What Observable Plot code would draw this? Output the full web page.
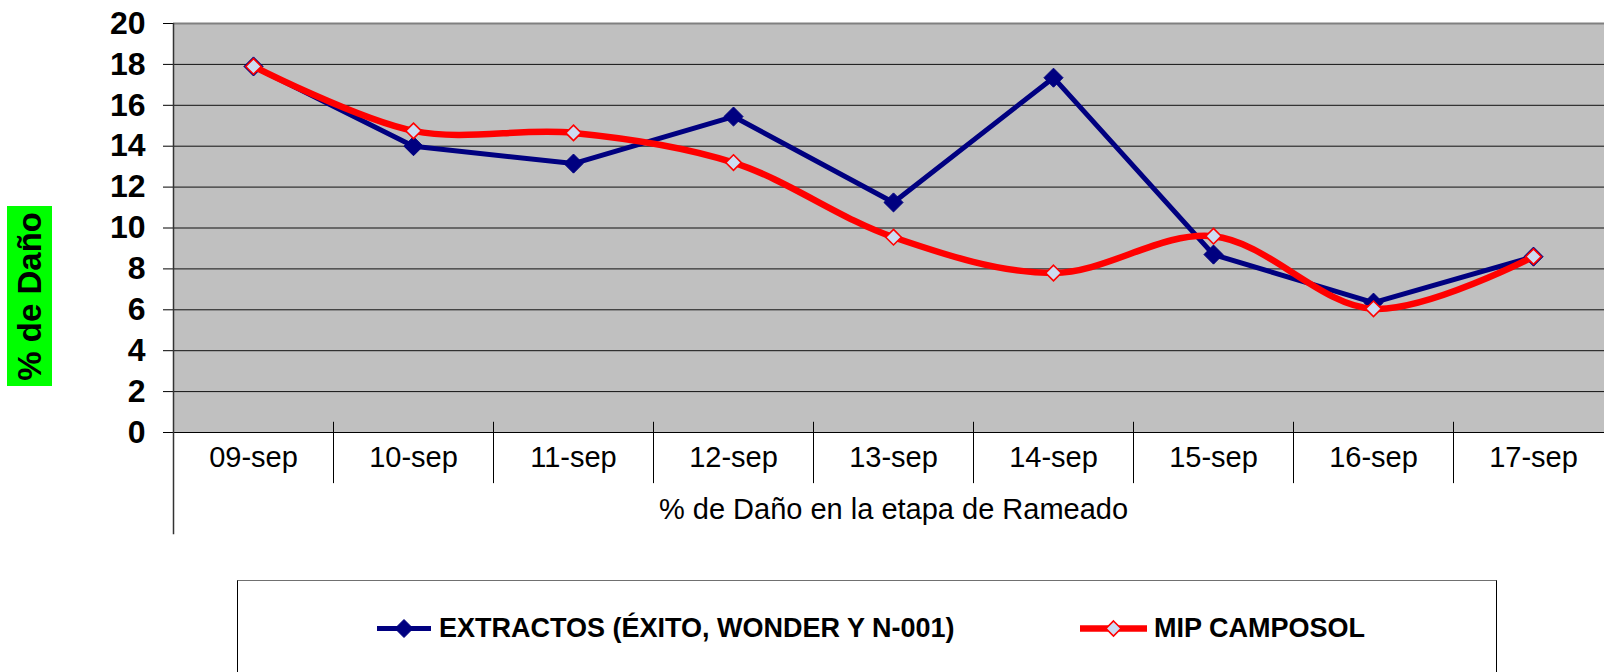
<!DOCTYPE html>
<html><head><meta charset="utf-8">
<script src="https://cdn.jsdelivr.net/npm/d3@7"></script>
<script src="https://cdn.jsdelivr.net/npm/@observablehq/plot@0.6"></script>
<style>
html,body{margin:0;padding:0;background:#fff;overflow:hidden;width:1604px;height:672px;}
#wrap{position:relative;width:1604px;height:672px;overflow:hidden;font-family:"Liberation Sans",Arial,sans-serif;color:#000;}
#chart{position:absolute;left:0;top:0;}
#ytitle{position:absolute;left:7px;top:206px;width:45px;height:180px;background:#00ff00;display:flex;align-items:center;justify-content:center;}
#ytitle span{writing-mode:vertical-rl;transform:rotate(180deg);font-weight:bold;font-size:33px;white-space:nowrap;line-height:1;}
#legend{position:absolute;left:237px;top:580px;width:1258px;height:120px;border:1px solid #000;border-top-color:#707070;background:#fff;}
.item{position:absolute;top:47px;transform:translateY(-50%);display:flex;align-items:center;font-weight:bold;font-size:27px;white-space:nowrap;}
.item svg{display:block;}
</style>
</head><body>
<div id="wrap">
  <div id="chart"></div>
  <div id="ytitle"><span></span></div>
  <div id="legend"></div>
</div>
<script>
const categories = ["09-sep","10-sep","11-sep","12-sep","13-sep","14-sep","15-sep","16-sep","17-sep"];
const extractos = [17.9, 14.0, 13.15, 15.45, 11.25, 17.35, 8.7, 6.35, 8.6];
const mipCamposol = [17.9, 14.75, 14.65, 13.2, 9.55, 7.8, 9.6, 6.05, 8.6];
const yTicks = [0, 2, 4, 6, 8, 10, 12, 14, 16, 18, 20];
const seriesNames = ["EXTRACTOS (ÉXITO, WONDER Y N-001)", "MIP CAMPOSOL"];
const xTitle = "% de Daño en la etapa de Rameado";
const yTitle = "% de Daño";

const blue = "#000080", red = "#ff0000", markFill = "#cddcf2";
const ext = categories.map((c, i) => ({x: i + 0.5, y: extractos[i]}));
const mip = categories.map((c, i) => ({x: i + 0.5, y: mipCamposol[i]}));

const chart = Plot.plot({
  width: 1604, height: 545,
  marginTop: 23, marginBottom: 113, marginLeft: 173, marginRight: 0,
  style: {fontFamily: '"Liberation Sans", Arial, sans-serif', background: "transparent", overflow: "hidden", color: "#000"},
  x: {type: "linear", domain: [0, categories.length], range: [173, 1613], axis: null},
  y: {domain: [0, 20], axis: null},
  marks: [
    Plot.frame({fill: "#c0c0c0", stroke: "none"}),
    Plot.gridY(yTicks.filter(v => v > 0 && v < 20), {stroke: "#111", strokeOpacity: 1, strokeWidth: 1}),
    Plot.ruleY([20], {stroke: "#808080", strokeWidth: 2}),
    Plot.ruleY([0], {stroke: "#000", strokeWidth: 1.2}),
    Plot.axisY(yTicks, {tickSize: 10, tickPadding: 18, fontSize: 32, fontWeight: "bold", tickFormat: d => String(d), label: null}),
    Plot.ruleX(d3.range(1, categories.length), {y1: -2.5, y2: 0.5, stroke: "#000", strokeWidth: 1}),
    Plot.ruleX([0], {y1: -5, y2: 20, stroke: "#333", strokeWidth: 1.5}),
    Plot.text(categories, {x: (d, i) => i + 0.5, text: d => d, frameAnchor: "bottom", dy: 34, fontSize: 29, fill: "#000"}),
    Plot.text([xTitle], {x: categories.length / 2, text: d => d, frameAnchor: "bottom", dy: 86, fontSize: 29, fill: "#000"}),
    Plot.line(ext, {x: "x", y: "y", stroke: blue, strokeWidth: 5}),
    Plot.dot(ext, {x: "x", y: "y", symbol: "diamond2", r: 8.6, fill: blue, stroke: blue, strokeWidth: 1}),
    Plot.line(mip, {x: "x", y: "y", stroke: red, strokeWidth: 6.5, curve: "catmull-rom"}),
    Plot.dot(mip, {x: "x", y: "y", symbol: "diamond2", r: 7, fill: markFill, stroke: red, strokeWidth: 1.6})
  ]
});
document.getElementById("chart").appendChild(chart);
document.querySelector("#ytitle span").textContent = yTitle;

// legend
const legend = document.getElementById("legend");
const legendItems = [
  {name: seriesNames[0], color: blue, lw: 5, w: 54, half: 9, fill: blue, sw: 1, left: 139, gap: 8},
  {name: seriesNames[1], color: red, lw: 6.5, w: 67, half: 7.5, fill: markFill, sw: 1.6, left: 842, gap: 7}
];
for (const it of legendItems) {
  const div = document.createElement("div");
  div.className = "item";
  div.style.left = it.left + "px";
  const ns = "http://www.w3.org/2000/svg";
  const svg = document.createElementNS(ns, "svg");
  svg.setAttribute("width", it.w); svg.setAttribute("height", 22);
  const line = document.createElementNS(ns, "line");
  line.setAttribute("x1", 0); line.setAttribute("x2", it.w); line.setAttribute("y1", 11); line.setAttribute("y2", 11);
  line.setAttribute("stroke", it.color); line.setAttribute("stroke-width", it.lw);
  svg.appendChild(line);
  const cx = it.w / 2, h = it.half;
  const poly = document.createElementNS(ns, "polygon");
  poly.setAttribute("points", `${cx},${11 - h} ${cx + h},11 ${cx},${11 + h} ${cx - h},11`);
  poly.setAttribute("fill", it.fill); poly.setAttribute("stroke", it.color); poly.setAttribute("stroke-width", it.sw);
  svg.appendChild(poly);
  div.appendChild(svg);
  const span = document.createElement("span");
  span.style.marginLeft = it.gap + "px";
  span.textContent = it.name;
  div.appendChild(span);
  legend.appendChild(div);
}
</script>
</body></html>
